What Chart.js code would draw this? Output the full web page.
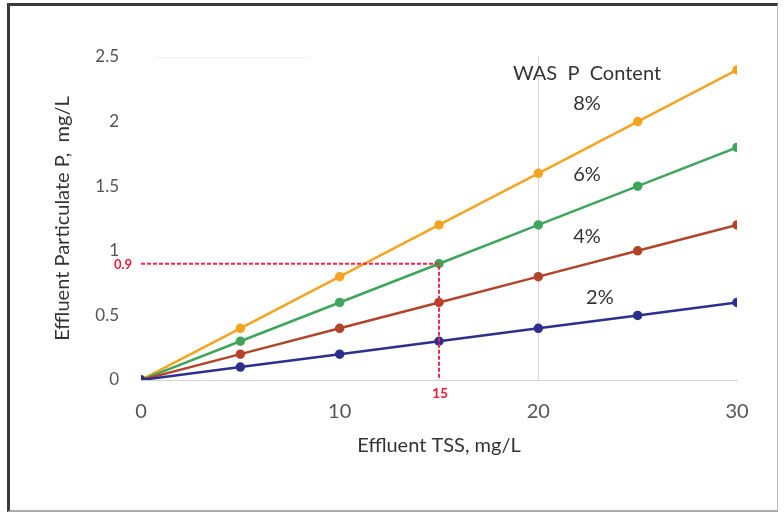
<!DOCTYPE html>
<html>
<head>
<meta charset="utf-8">
<script src="https://cdn.jsdelivr.net/npm/chart.js@4"></script>
<style>
  html, body { margin: 0; padding: 0; background: #fff; }
  #wrap { position: relative; width: 784px; height: 515px; }
  #frame {
    position: absolute; left: 7px; top: 3px; width: 771px; height: 509px;
    border-left: 3px solid #3a3a3a; border-top: 3px solid #3a3a3a;
    border-right: 1px solid #bbb; border-bottom: 2px solid #aaa;
    box-sizing: border-box; pointer-events: none;
  }
</style>
</head>
<body>
<div id="wrap">
  <canvas id="chart" width="784" height="515"></canvas>
  <div id="frame"></div>
</div>
<script>
// effluent TSS (mg/L)
const tss = [0, 5, 10, 15, 20, 25, 30];
// particulate P (mg/L) for each WAS P content
const p2 = [0, 0.1, 0.2, 0.3, 0.4, 0.5, 0.6];
const p4 = [0, 0.2, 0.4, 0.6, 0.8, 1.0, 1.2];
const p6 = [0, 0.3, 0.6, 0.9, 1.2, 1.5, 1.8];
const p8 = [0, 0.4, 0.8, 1.2, 1.6, 2.0, 2.4];
const seriesLabels = ['2%', '4%', '6%', '8%'];

// red read-off line (15 mg/L TSS at 6% -> 0.9 mg/L)
const readX = [0, 15, 15];
const readY = [0.9, 0.9, 0];

// faint top line segment
const topX = [0.7, 8.5];
const topY = [2.5, 2.5];

const xTicks = [0, 10, 20, 30];
const yTicks = [0, 0.5, 1, 1.5, 2, 2.5];

const FONT = 'Lato, "Open Sans", sans-serif';

function pts(xs, ys) {
    return xs.map((x, i) => ({ x: x, y: ys[i] }));
}

function seriesSet(label, ys, color) {
    return {
        label: label,
        data: pts(tss, ys),
        borderColor: color,
        backgroundColor: color,
        borderWidth: 2.5,
        pointRadius: 3.5,
        pointHoverRadius: 3.5,
        order: 2
    };
}

// text on the plot: legend-like labels and read-off values
const textLabels = {
    id: 'textLabels',
    afterDatasetsDraw(chart) {
        const ctx = chart.ctx;
        const xs = chart.scales.x, ys = chart.scales.y;
        ctx.save();
        ctx.textAlign = 'center';
        ctx.textBaseline = 'middle';
        ctx.fillStyle = '#333';
        ctx.font = '20px ' + FONT;
        ctx.fillText('WAS  P  Content', xs.getPixelForValue(22.45), ys.getPixelForValue(2.375));
        const spots = [[23.1, 0.635], [22.45, 1.107], [22.45, 1.59], [22.45, 2.14]];
        seriesLabels.forEach((t, i) => {
            ctx.fillText(t, xs.getPixelForValue(spots[i][0]), ys.getPixelForValue(spots[i][1]));
        });
        ctx.fillStyle = '#e8203c';
        ctx.font = 'bold 13px ' + FONT;
        ctx.fillText(String(readY[0]), chart.chartArea.left - 18, ys.getPixelForValue(readY[0]) + 1);
        ctx.font = 'bold 14px ' + FONT;
        ctx.fillText(String(readX[1]), xs.getPixelForValue(readX[1]) + 1, chart.chartArea.bottom + 13);
        ctx.restore();
    }
};

new Chart(document.getElementById('chart'), {
    type: 'line',
    data: {
        datasets: [
            {
                data: pts(topX, topY),
                borderColor: '#e4e4e4',
                borderWidth: 1,
                pointRadius: 0,
                order: 3
            },
            seriesSet(seriesLabels[0], p2, '#2c2f8c'),
            seriesSet(seriesLabels[1], p4, '#b2442a'),
            seriesSet(seriesLabels[2], p6, '#3ea65a'),
            seriesSet(seriesLabels[3], p8, '#f5a422'),
            {
                data: pts(readX, readY),
                borderColor: '#ee2a48',
                borderWidth: 2,
                borderDash: [4, 2],
                pointRadius: 0,
                order: 1
            }
        ]
    },
    options: {
        responsive: false,
        animation: false,
        events: [],
        layout: { padding: { left: 0, right: 47, top: 57, bottom: 0 } },
        plugins: { legend: { display: false }, tooltip: { enabled: false } },
        scales: {
            x: {
                type: 'linear',
                min: 0, max: 30,
                afterFit: s => { s.height = 135; },
                afterBuildTicks: s => { s.ticks = xTicks.map(v => ({ value: v })); },
                border: { display: true, color: '#d4d4d4', width: 1 },
                grid: {
                    drawTicks: false,
                    color: c => c.tick && c.tick.value === 20 ? '#d8d8d8' : 'rgba(0,0,0,0)'
                },
                ticks: {
                    padding: 20, color: '#555', font: { family: FONT, size: 20 },
                    callback: v => String(v)
                },
                title: {
                    display: true, text: 'Effluent TSS, mg/L', color: '#333',
                    font: { family: FONT, size: 20 }, padding: { top: 0, bottom: 57 }
                }
            },
            y: {
                min: 0, max: 2.5,
                afterFit: s => { s.width = 141; },
                afterBuildTicks: s => { s.ticks = yTicks.map(v => ({ value: v })); },
                border: { display: false },
                grid: { display: false, drawTicks: false },
                ticks: {
                    padding: 22, color: '#555', font: { family: FONT, size: 17 },
                    callback: v => String(v)
                },
                title: {
                    display: true, text: 'Effluent Particulate P,  mg/L', color: '#333',
                    font: { family: FONT, size: 20 }, padding: { top: 51, bottom: 0 }
                }
            }
        }
    },
    plugins: [textLabels]
});
</script>
</body>
</html>
